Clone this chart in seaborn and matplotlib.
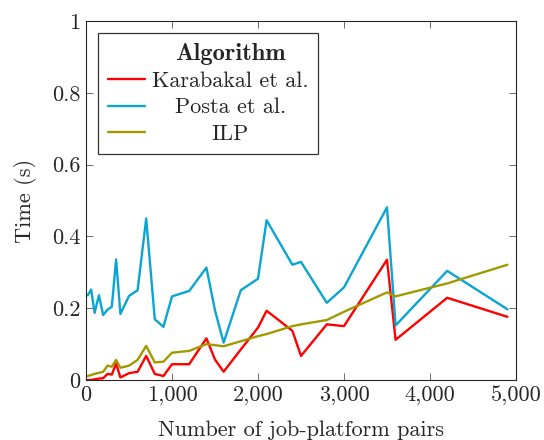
import matplotlib
matplotlib.use("Agg")
import matplotlib.pyplot as plt
import seaborn as sns
import pandas as pd
from matplotlib.ticker import FuncFormatter, MultipleLocator
from matplotlib.offsetbox import HPacker, DrawingArea

pairs = [20, 60, 100, 150, 200, 250, 300, 350, 400, 500, 600, 700, 800, 900, 1000,
         1200, 1400, 1500, 1600, 1800, 2000, 2100, 2400, 2500, 2800, 3000, 3500, 3600,
         4200, 4900]
karabakal = [0.0, 0.0, 0.002, 0.004, 0.005, 0.017, 0.015, 0.046, 0.007, 0.019, 0.023,
             0.067, 0.017, 0.011, 0.044, 0.044, 0.116, 0.057, 0.023, 0.085, 0.146,
             0.193, 0.137, 0.067, 0.155, 0.150, 0.335, 0.112, 0.229, 0.176]
posta = [0.236, 0.252, 0.187, 0.236, 0.181, 0.196, 0.204, 0.336, 0.184, 0.234, 0.250,
         0.450, 0.169, 0.148, 0.233, 0.248, 0.313, 0.194, 0.104, 0.250, 0.282, 0.445,
         0.321, 0.329, 0.215, 0.258, 0.481, 0.152, 0.304, 0.197]
ilp = [0.011, 0.014, 0.017, 0.020, 0.023, 0.040, 0.037, 0.056, 0.034, 0.040, 0.056,
       0.095, 0.049, 0.051, 0.076, 0.081, 0.100, 0.097, 0.094, 0.108, 0.122, 0.128,
       0.150, 0.155, 0.167, 0.190, 0.244, 0.233, 0.269, 0.321]
algorithms = ["Karabakal et al.", "Posta et al.", "ILP"]
colors = ["#FF0000", "#0AA5D2", "#A09A00"]

df = pd.concat([
    pd.DataFrame({"pairs": pairs, "time": vals, "Algorithm": name})
    for name, vals in zip(algorithms, [karabakal, posta, ilp])
])

sns.set_style("ticks")
plt.rcParams["font.family"] = ["cmr10"]
plt.rcParams["axes.formatter.use_mathtext"] = True
plt.rcParams["mathtext.fontset"] = "cm"

FS = 16
fig = plt.figure(figsize=(5.44, 4.40), dpi=100)
ax = fig.add_axes([86/544, 1-380/440, 430/544, 359/440])
sns.lineplot(data=df, x="pairs", y="time", hue="Algorithm", hue_order=algorithms,
             palette=colors, lw=1.7, ax=ax, sort=False, estimator=None)

ax.set_xlim(0, 5000)
ax.set_ylim(0, 1)
ax.xaxis.set_major_locator(MultipleLocator(1000))
ax.yaxis.set_major_locator(MultipleLocator(0.2))
ax.xaxis.set_major_formatter(FuncFormatter(lambda v, p: f"{int(v):,}"))
ax.yaxis.set_major_formatter(FuncFormatter(lambda v, p: "0" if v == 0 else f"{v:g}"))
ax.tick_params(direction="in", top=True, right=True, length=5, width=0.6,
               color="#555555", labelsize=FS, pad=4)
for s in ax.spines.values():
    s.set_linewidth(0.8)
ax.set_xlabel("Number of job-platform pairs", fontsize=FS, labelpad=11)
ax.set_ylabel("Time (s)", fontsize=FS, labelpad=11)

HL, HTP = 1.66, 0.31
base_sep = HTP * FS
leg = ax.legend(title="Algorithm", loc="upper left", bbox_to_anchor=(0.028, 0.967),
                fontsize=FS, frameon=True, fancybox=False, edgecolor="black",
                handlelength=HL, handletextpad=HTP, borderpad=0.45, labelspacing=0.30,
                borderaxespad=0.0,
                title_fontproperties={"family": "cmb10", "size": FS * 1.1})
leg.get_frame().set_linewidth(0.9)

# center the label texts like the original legend
fig.canvas.draw()
renderer = fig.canvas.get_renderer()
texts = leg.get_texts()
widths = [t.get_window_extent(renderer).width / renderer.points_to_pixels(1.0) for t in texts]
wmax = max(widths)
for column in leg._legend_handle_box.get_children():
    for entry, w in zip(column.get_children(), widths):
        entry.sep = base_sep + (wmax - w) / 2

# center the title over the label column rather than the whole box
spacer = DrawingArea(HL * FS + base_sep, 0)
title_row = HPacker(children=[spacer, leg._legend_title_box], sep=0, pad=0,
                    align="baseline")
title_row.set_figure(fig)
leg._legend_box._children[0] = title_row

fig.savefig("out.png", dpi=100)
